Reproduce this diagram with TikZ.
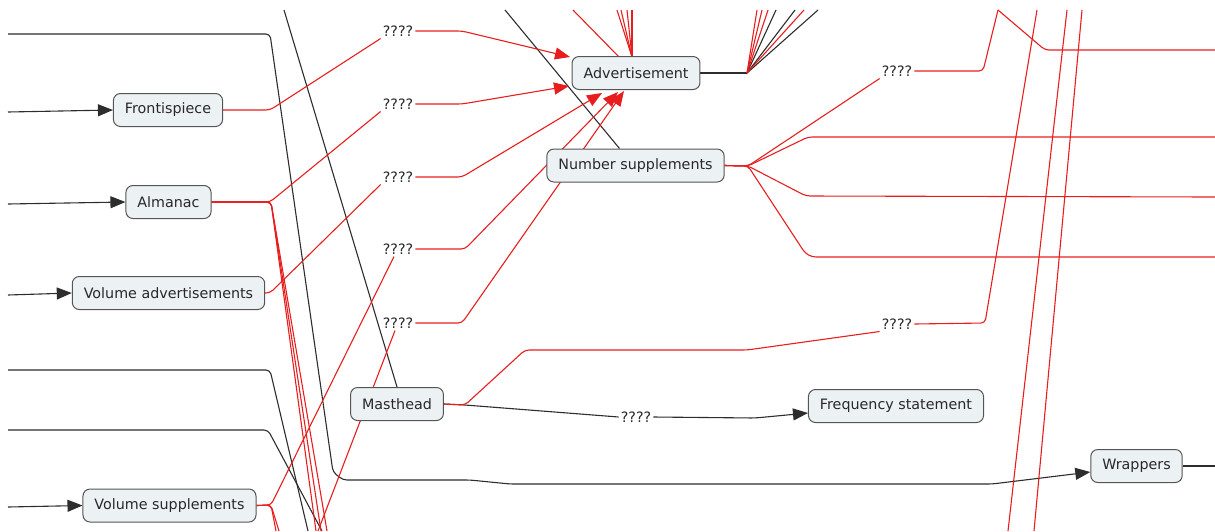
\documentclass[tikz,border=0pt]{standalone}
\usepackage{fontspec}
\setmainfont{DejaVu Sans}
\usetikzlibrary{arrows.meta,calc}
\definecolor{rd}{RGB}{232,30,30}
\definecolor{bk}{RGB}{45,45,45}
\definecolor{nf}{RGB}{236,241,244}
\definecolor{nd}{RGB}{85,85,85}
\definecolor{tx}{RGB}{40,40,40}
\pgfdeclarelayer{bg}
\pgfsetlayers{bg,main}
\begin{document}
\begin{tikzpicture}[x=1pt,y=-1pt,
  box/.style={draw=nd, fill=nf, rounded corners=7pt, line width=1pt, inner xsep=11.5pt, minimum height=33pt, font=\fontsize{14.3}{16}\selectfont, text=tx},
  lbl/.style={inner sep=2pt, font=\fontsize{14.3}{16}\selectfont, text=tx},
  rl/.style={draw=rd, line width=1.1pt, rounded corners=4pt},
  bl/.style={draw=bk, line width=1.1pt, rounded corners=4pt},
  rtip/.style={-{Triangle[length=15pt,width=12pt]}},
  btip/.style={-{Triangle[length=15pt,width=12pt]}}
]
\useasboundingbox (0,0) rectangle (1215,531);

% nodes
\node[box] (front) at (168,110) {Frontispiece};
\node[box] (alm) at (168.5,202) {Almanac};
\node[box] (vadv) at (168.5,293) {Volume advertisements};
\node[box] (vsup) at (169.5,505.5) {Volume supplements};
\node[box] (mast) at (397,404) {Masthead};
\node[box] (adv) at (636,73) {Advertisement};
\node[box] (nsup) at (635.5,165.5) {Number supplements};
\node[box] (freq) at (896,406) {Frequency statement};
\node[box] (wrap) at (1136.5,466) {Wrappers};

\node[lbl] (L1) at (398,31) {????};
\node[lbl] (L2) at (398,104) {????};
\node[lbl] (L3) at (398,177) {????};
\node[lbl] (L4) at (398,249) {????};
\node[lbl] (L5) at (398,323) {????};
\node[lbl] (L6) at (897,71) {????};
\node[lbl] (L7) at (897,324) {????};
\node[lbl] (L8) at (636,417) {????};

% free ends
\coordinate (inF) at (8,112);
\coordinate (inA) at (8,204);
\coordinate (inV) at (8,295);
\coordinate (inS) at (8,507);
\coordinate (b1s) at (8,34);
\coordinate (b3s) at (8,370);
\coordinate (b4s) at (8,430);
\coordinate (b3e) at (308,531);
\coordinate (b4e) at (322,531);
\coordinate (b2t) at (284,10);
\coordinate (nst) at (505,10);
\coordinate (wout) at (1215,466);
\coordinate (l5b) at (318,531);
\coordinate (ad1) at (316,531);
\coordinate (ad2) at (321,531);
\coordinate (ad3) at (327,531);
\coordinate (vd1) at (276,531);
\coordinate (vd2) at (279,531);
\coordinate (t1) at (573,10);
\coordinate (t2) at (617,10);
\coordinate (t3) at (621,10);
\coordinate (t4) at (627,10);
\coordinate (t5) at (632,10);
\coordinate (f1) at (757,10);
\coordinate (f2) at (762,10);
\coordinate (f3) at (768,10);
\coordinate (f4) at (776,10);
\coordinate (f5) at (795,10);
\coordinate (f6) at (804,10);
\coordinate (f7) at (818,10);
\coordinate (h0) at (1215,50);
\coordinate (h1) at (1215,137);
\coordinate (h2) at (1215,197);
\coordinate (h3) at (1215,257);
\coordinate (top6) at (998,10);
\coordinate (t7) at (1037,10);
\coordinate (r1a) at (1067,10);
\coordinate (r1b) at (1008,531);
\coordinate (r2a) at (1082,10);
\coordinate (r2b) at (1034,531);

\begin{pgfonlayer}{bg}
% black connectors
\draw[bl,btip] (inF) -- (front.west);
\draw[bl,btip] (inA) -- (alm.west);
\draw[bl,btip] (inV) -- (vadv.west);
\draw[bl,btip] (inS) -- (vsup.west);
\draw[bl,btip] (b1s) -- (270,34) -- (333,472) -- (343,480) -- (470,480) -- (510,484) -- (992,484) -- ([yshift=-6pt]wrap.west);
\draw[bl] (b2t) -- (mast.north);
\draw[bl] (b3s) -- (270,370) -- (b3e);
\draw[bl] (b4s) -- (268,430) -- (b4e);
\draw[bl] (nst) -- ([xshift=-16pt]nsup.north);
\draw[bl] (wrap.east) -- (wout);
\draw[bl] (mast.east) -- (465,405) -- (L8.west);
\draw[bl,btip] (L8.east) -- (755,418) -- ([yshift=-7pt]freq.west);
\draw[bl] (adv.east) -- (747,73);
\foreach \c in {f4,f5,f7}{\draw[bl] (747,73) -- (\c);}
\foreach \c in {f1,f2,f3,f6}{\draw[rl] (747,73) -- (\c);}

% red connectors
\draw[rl] (front.east) -- (270,110) -- (L1.south west);
\draw[rl,rtip] (L1.east) -- (462,31) -- (570,57);
\draw[rl] (alm.east) -- (270,202) -- (L2.south west);
\draw[rl,rtip] (L2.east) -- (462,104) -- (569,86);
\draw[rl] (vadv.east) -- (270,293) -- (L3.south west);
\draw[rl,rtip] (L3.east) -- (462,177) -- (602,93);
\draw[rl] (vsup.east) -- (271,505) -- ([xshift=-4pt]L4.south);
\draw[rl,rtip] (L4.east) -- (465,249) -- (618,92);
\draw[rl] (l5b) -- ([xshift=-3pt]L5.south);
\draw[rl,rtip] (L5.east) -- (462,323) -- (624,91);
\foreach \c in {ad1,ad2,ad3}{\draw[rl] (alm.east) -- (271,202) -- (\c);}
\foreach \c in {vd1,vd2}{\draw[rl] (vsup.east) -- (271,505) -- (\c);}
\draw[rl] (t1) -- (619,57);
\foreach \c in {t2,t3,t4,t5}{\draw[rl] (\c) -- (632,57);}
\draw[rl] (nsup.east) -- (748,166) -- (808,137) -- (h1);
\draw[rl] (nsup.east) -- (748,166) -- (806,196) -- (h2);
\draw[rl] (nsup.east) -- (748,166) -- (805,253) -- (812,257) -- (h3);
\draw[rl] (nsup.east) -- (748,166) -- (L6.south west);
\draw[rl] (L6.east) -- (983,71) -- (top6);
\draw[rl] (top6) -- (1045,50) -- (h0);
\draw[rl] (mast.east) -- (465,405) -- (525,350) -- (747,350) -- (L7.south west);
\draw[rl] (L7.east) -- (985,323) -- (t7);
\draw[rl] (r1a) -- (r1b);
\draw[rl] (r2a) -- (r2b);
\end{pgfonlayer}
\end{tikzpicture}
\end{document}
